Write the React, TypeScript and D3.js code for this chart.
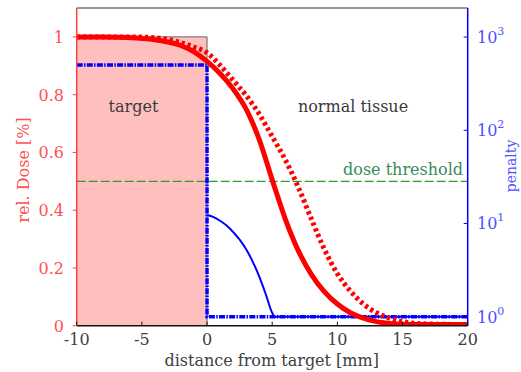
import React from "react";
import * as d3 from "d3";

// ---- data ----
const doseX = [-10, -8, -6, -4, -2, -1, 0, 1, 2, 3, 4, 5, 6, 7, 8, 9, 10, 11, 12, 13, 14, 15, 17, 20];
const doseSolid = [1.0, 1.0, 0.998, 0.99, 0.97, 0.948, 0.915, 0.873, 0.82, 0.75, 0.645, 0.505, 0.37, 0.26, 0.178, 0.118, 0.075, 0.045, 0.026, 0.014, 0.008, 0.005, 0.004, 0.004];
const doseDotted = [1.0, 1.0, 1.0, 0.997, 0.98, 0.965, 0.945, 0.902, 0.85, 0.797, 0.733, 0.655, 0.575, 0.48, 0.37, 0.265, 0.18, 0.12, 0.075, 0.045, 0.026, 0.014, 0.006, 0.004];

const penaltyStepX = [-10, 0, 0, 20];
const penaltyStepY = [500, 500, 1, 1];

const penaltyCurveX = [0, 0.5, 1, 1.5, 2, 2.5, 3, 3.5, 4, 4.5, 5, 5.2, 20];
const penaltyCurveY = [12.3, 11.7, 10.7, 9.5, 8.1, 6.7, 5.3, 3.9, 2.7, 1.75, 1.1, 1.0, 1.0];

const threshold = 0.5;
const targetRange = [-10, 0];

const xTicks = [-10, -5, 0, 5, 10, 15, 20];
const yTicks = [0, 0.2, 0.4, 0.6, 0.8, 1];
const yTickLabels = ["0", "0.2", "0.4", "0.6", "0.8", "1"];
const penTicks = [1, 10, 100, 1000];
const penExp = ["0", "1", "2", "3"];

const W = 521, H = 372;
const L = 76.7, R = 467.7, T = 8, B = 325.7;

const serif = "'DejaVu Serif', serif";
const ts = { fontFamily: serif } as React.CSSProperties;

export default function App() {
  const x = d3.scaleLinear().domain([-10, 20]).range([L, R]);
  const y = d3.scaleLinear().domain([0, 1.1]).range([B, T]);
  const yp = d3.scaleLog().domain([0.8, 2050]).range([B, T]);

  const solidPath = d3
    .line<number>()
    .x((_, i) => x(doseX[i]))
    .y((d) => y(d))
    .curve(d3.curveMonotoneX)(doseSolid) || "";
  const dottedPath = d3
    .line<number>()
    .x((_, i) => x(doseX[i]))
    .y((d) => y(d))
    .curve(d3.curveMonotoneX)(doseDotted) || "";

  const stepPath = d3
    .line<number>()
    .x((_, i) => x(penaltyStepX[i]))
    .y((d) => yp(d))(penaltyStepY) || "";
  const penCurvePath = d3
    .line<number>()
    .x((_, i) => x(penaltyCurveX[i]))
    .y((d) => yp(d))
    .curve(d3.curveMonotoneX)(penaltyCurveY) || "";

  return (
    <svg
      width={W}
      height={H}
      style={{ position: "absolute", left: 0, top: 0, background: "#fff", fontFamily: serif }}
    >
      <defs>
        <clipPath id="plotclip">
          <rect x={L} y={T} width={R - L} height={B - T} />
        </clipPath>
      </defs>

      <rect
        x={x(targetRange[0])}
        y={y(1)}
        width={x(targetRange[1]) - x(targetRange[0])}
        height={y(0) - y(1)}
        fill="#ffbfbf"
      />
      <path
        d={`M${x(targetRange[0])},${y(1)}H${x(targetRange[1])}V${y(0)}`}
        fill="none"
        stroke="#666"
        strokeWidth={1}
      />

      <line
        x1={L}
        x2={R}
        y1={y(threshold)}
        y2={y(threshold)}
        stroke="#2f9a2f"
        strokeWidth={1.3}
        strokeDasharray="9,3"
      />

      <g clipPath="url(#plotclip)">
        <path d={penCurvePath} fill="none" stroke="#0000ff" strokeWidth={2} />
        <path
          d={stepPath}
          fill="none"
          stroke="#0000ff"
          strokeWidth={3.5}
          strokeDasharray="6,1.3,1.5,1.3"
        />
        <path d={solidPath} fill="none" stroke="#ff0000" strokeWidth={5} />
        <path
          d={dottedPath}
          fill="none"
          stroke="#ff0000"
          strokeWidth={5}
          strokeDasharray="3.2,3"
        />
      </g>

      <line x1={L} x2={R} y1={T} y2={T} stroke="#333" strokeWidth={1.2} />
      <line x1={L} x2={R} y1={B} y2={B} stroke="#111" strokeWidth={1.5} />
      <line x1={L} x2={L} y1={T} y2={B} stroke="#ff4040" strokeWidth={1.5} />
      <line x1={R} x2={R} y1={T} y2={B} stroke="#0000ff" strokeWidth={1.5} />

      {xTicks.map((t) => (
        <g key={"x" + t}>
          <line x1={x(t)} x2={x(t)} y1={B} y2={B - 4} stroke="#111" strokeWidth={1} />
          <text x={x(t)} y={345} textAnchor="middle" fontSize={16} fill="#404040" style={ts}>
            {String(t)}
          </text>
        </g>
      ))}

      {yTicks.map((t, i) => (
        <g key={"y" + t}>
          <line x1={L - 4} x2={L} y1={y(t)} y2={y(t)} stroke="#ff4040" strokeWidth={1} />
          <text x={64} y={y(t) + 6} textAnchor="end" fontSize={16} fill="#ff5050" style={ts}>
            {yTickLabels[i]}
          </text>
        </g>
      ))}

      {penTicks.map((t, i) => (
        <g key={"p" + t}>
          <line x1={R - 4} x2={R} y1={yp(t)} y2={yp(t)} stroke="#0000ff" strokeWidth={1} />
          <text x={477} y={yp(t) + 6} fontSize={16} fill="#5050ff" style={ts}>
            10
            <tspan dy={-8} fontSize={11}>
              {penExp[i]}
            </tspan>
          </text>
        </g>
      ))}

      <text x={133.5} y={112} textAnchor="middle" fontSize={16} fill="#3a3a3a" style={ts}>
        target
      </text>
      <text x={353} y={112} textAnchor="middle" fontSize={16} fill="#3a3a3a" style={ts}>
        normal tissue
      </text>
      <text x={463} y={175} textAnchor="end" fontSize={16} fill="#3a8a5a" style={ts}>
        dose threshold
      </text>

      <text x={271.7} y={366} textAnchor="middle" fontSize={16} fill="#404040" style={ts}>
        distance from target [mm]
      </text>
      <text
        transform="translate(29,170) rotate(-90)"
        textAnchor="middle"
        fontSize={16}
        fill="#ff5050"
        style={ts}
      >
        rel. Dose [%]
      </text>
      <text
        transform="translate(516,166) rotate(-90)"
        textAnchor="middle"
        fontSize={14}
        fill="#5050ff"
        style={ts}
      >
        penalty
      </text>
    </svg>
  );
}
